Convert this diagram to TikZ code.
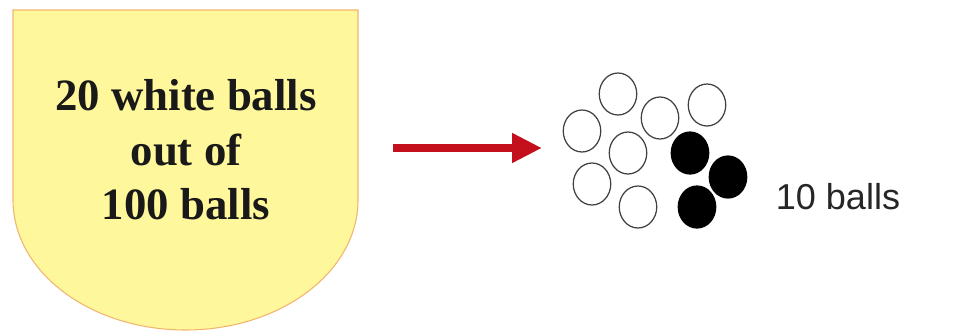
\documentclass[tikz,border=0pt]{standalone}
\usepackage{fontspec}
\setmainfont{Liberation Serif}
\setsansfont{Liberation Sans}
\usetikzlibrary{arrows.meta,shapes.geometric}
\definecolor{shieldfill}{HTML}{FFF79C}
\definecolor{shieldedge}{HTML}{F2B56E}
\definecolor{arrowred}{HTML}{C4101C}

\begin{document}
\begin{tikzpicture}[
  x=0.02cm,y=0.02cm,
  shield/.style={fill=shieldfill,draw=shieldedge,line width=0.6pt},
  urn/.style={font=\bfseries\fontsize{25.5}{31}\selectfont,align=center,text=black!90},
  push/.style={-{Triangle[length=0.6cm,width=0.56cm]},line width=4.4pt,draw=arrowred},
  wball/.style={ellipse,draw=black!75,line width=0.7pt,minimum width=0.75cm,minimum height=0.84cm,inner sep=0pt},
  bball/.style={wball,fill=black,draw=black},
  count/.style={font=\sffamily\fontsize{20.5}{24}\selectfont,text=black!85},
]
\useasboundingbox[fill=white] (0,0) rectangle (974,-335);
\draw[shield] (13,-10) -- (358,-10) -- (358,-200)
  arc[start angle=0,end angle=-180,x radius=172.5,y radius=130] -- cycle;
\node[urn] (urntext) at (186,-150) {20 white balls\\out of\\100 balls};
\coordinate (from) at (393,-148);
\coordinate (to) at (542,-148);
\draw[push] (from) -- (to);
\foreach \n/\x/\y in {1/618/94,2/582/131,3/660/118,4/707/105,5/628/153,6/592/184,7/638/207}
  \node[wball] (w\n) at (\x,-\y) {};
\foreach \n/\x/\y in {1/690/153,2/728/177,3/697/207}
  \node[bball] (b\n) at (\x,-\y) {};
\node[count] (cnt) at (838,-197) {10 balls};
\end{tikzpicture}
\end{document}
